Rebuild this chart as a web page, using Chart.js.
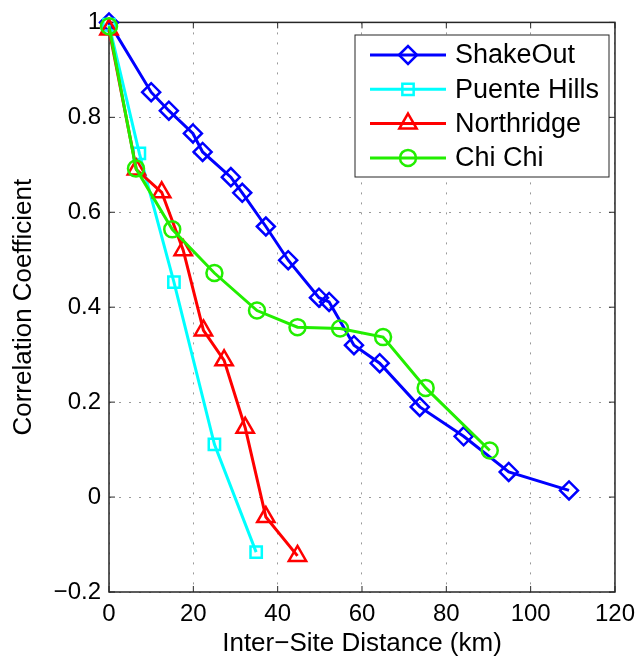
<!DOCTYPE html>
<html>
<head>
<meta charset="utf-8">
<script src="https://cdn.jsdelivr.net/npm/chart.js@4"></script>
<style>
  body { margin: 0; background: #fff; }
  canvas { display: block; }
</style>
</head>
<body>
<canvas id="chart" width="643" height="657"></canvas>
<script>
// values (km, correlation)
const shakeOutX = [0, 10, 14.2, 19.9, 22.2, 28.9, 31.6, 37.2, 42.5, 49.8, 52.2, 58.1, 64.2, 73.7, 84.1, 94.8, 109.1];
const shakeOutY = [1.0, 0.853, 0.814, 0.766, 0.727, 0.674, 0.641, 0.570, 0.499, 0.420, 0.411, 0.320, 0.282, 0.190, 0.128, 0.053, 0.014];
const puenteX = [0, 7.2, 15.4, 25.0, 34.9];
const puenteY = [0.995, 0.724, 0.453, 0.111, -0.116];
const northridgeX = [0, 6.5, 12.5, 17.6, 22.4, 27.3, 32.3, 37.2, 44.7];
const northridgeY = [0.985, 0.69, 0.642, 0.520, 0.351, 0.288, 0.146, -0.042, -0.124];
const chiChiX = [0, 6.4, 15.0, 25.0, 35.1, 44.7, 54.8, 65.0, 75.1, 90.3];
const chiChiY = [0.992, 0.692, 0.564, 0.472, 0.393, 0.358, 0.355, 0.337, 0.230, 0.098];

const seriesNames = ["ShakeOut", "Puente Hills", "Northridge", "Chi Chi"];
const seriesColors = ["#0000ff", "#00ffff", "#ff0000", "#22ee00"];

const FONT = "'Liberation Sans', Arial, Helvetica, sans-serif";

function toPoints(xs, ys) {
    return xs.map((x, i) => ({ x, y: ys[i] }));
}

function makeSet(i, xs, ys, style, radius) {
    return {
        label: seriesNames[i],
        data: toPoints(xs, ys),
        borderColor: seriesColors[i],
        borderWidth: 3,
        pointStyle: style,
        pointRadius: radius,
        pointBorderWidth: 2.5,
        pointBorderColor: seriesColors[i],
        pointBackgroundColor: "rgba(0,0,0,0)",
        tension: 0,
        clip: false,
        order: 4 - i
    };
}

// matlab-ish frame: box, inside ticks and a boxed legend in the upper right
const matlabFrame = {
    id: "matlabFrame",
    beforeDatasetsDraw(chart) {
        const { ctx, chartArea: a, scales } = chart;
        ctx.save();
        ctx.strokeStyle = "#262626";
        ctx.lineWidth = 1;
        ctx.beginPath();
        scales.x.ticks.forEach(t => {
            const px = scales.x.getPixelForValue(t.value);
            ctx.moveTo(px, a.bottom); ctx.lineTo(px, a.bottom - 6);
            ctx.moveTo(px, a.top); ctx.lineTo(px, a.top + 6);
        });
        scales.y.ticks.forEach(t => {
            const py = scales.y.getPixelForValue(t.value);
            ctx.moveTo(a.left, py); ctx.lineTo(a.left + 6, py);
            ctx.moveTo(a.right, py); ctx.lineTo(a.right - 6, py);
        });
        ctx.stroke();
        ctx.lineWidth = 1.5;
        ctx.strokeRect(a.left, a.top, a.right - a.left, a.bottom - a.top);
        ctx.restore();
    },
    afterDatasetsDraw(chart) {
        const { ctx } = chart;
        const box = { x: 355, y: 35, w: 254, h: 142 };
        ctx.save();
        ctx.fillStyle = "#fff";
        ctx.fillRect(box.x, box.y, box.w, box.h);
        ctx.strokeStyle = "#262626";
        ctx.lineWidth = 1;
        ctx.strokeRect(box.x, box.y, box.w, box.h);
        // legend follows the plotting order, not chart.js draw order
        chart.data.datasets.forEach((ds, i) => {
            const y = 55 + i * 34.3;
            ctx.strokeStyle = ds.borderColor;
            ctx.lineWidth = ds.borderWidth;
            ctx.beginPath();
            ctx.moveTo(370, y);
            ctx.lineTo(446, y);
            ctx.stroke();
            ctx.fillStyle = "rgba(0,0,0,0)";
            ctx.lineWidth = ds.pointBorderWidth;
            Chart.helpers.drawPoint(ctx, {
                pointStyle: ds.pointStyle,
                radius: ds.pointRadius,
                rotation: 0,
                borderWidth: ds.pointBorderWidth
            }, 408, y);
            ctx.fillStyle = "#000";
            ctx.font = "27px " + FONT;
            ctx.textBaseline = "middle";
            ctx.textAlign = "left";
            ctx.fillText(ds.label, 455, y + 1);
        });
        ctx.restore();
    }
};

function fmtTick(v) {
    if (Math.abs(v) < 1e-9) return "0";
    return String(+v.toFixed(1)).replace("-", "\u2212");
}

new Chart(document.getElementById("chart"), {
    type: "line",
    data: {
        datasets: [
            makeSet(0, shakeOutX, shakeOutY, "rectRot", 9),
            makeSet(1, puenteX, puenteY, "rect", 8),
            makeSet(2, northridgeX, northridgeY, "triangle", 10),
            makeSet(3, chiChiX, chiChiY, "circle", 8)
        ]
    },
    options: {
        responsive: false,
        animation: false,
        layout: { padding: { top: 22, right: 21, left: 0, bottom: 0 } },
        plugins: {
            legend: { display: false },
            tooltip: { enabled: false }
        },
        scales: {
            x: {
                type: "linear",
                min: 0,
                max: 120,
                afterFit: s => { s.height = 65; },
                ticks: {
                    stepSize: 20,
                    padding: 8,
                    color: "#000",
                    maxRotation: 0,
                    font: { family: FONT, size: 24 }
                },
                grid: { color: "#999", lineWidth: 1, drawTicks: false },
                border: { display: false, dash: [2, 8] },
                title: {
                    display: true,
                    text: "Inter\u2212Site Distance (km)",
                    color: "#000",
                    font: { family: FONT, size: 26, lineHeight: 1 },
                    padding: { top: 0, bottom: 0 }
                }
            },
            y: {
                min: -0.2,
                max: 1,
                afterFit: s => { s.width = 109; },
                ticks: {
                    stepSize: 0.2,
                    padding: 8,
                    color: "#000",
                    font: { family: FONT, size: 24 },
                    callback: v => fmtTick(v)
                },
                grid: { color: "#999", lineWidth: 1, drawTicks: false },
                border: { display: false, dash: [2, 8] },
                title: {
                    display: true,
                    text: "Correlation Coefficient",
                    color: "#000",
                    font: { family: FONT, size: 26, lineHeight: 1 },
                    padding: { top: 11, bottom: 0 }
                }
            }
        }
    },
    plugins: [matlabFrame]
});
</script>
</body>
</html>
